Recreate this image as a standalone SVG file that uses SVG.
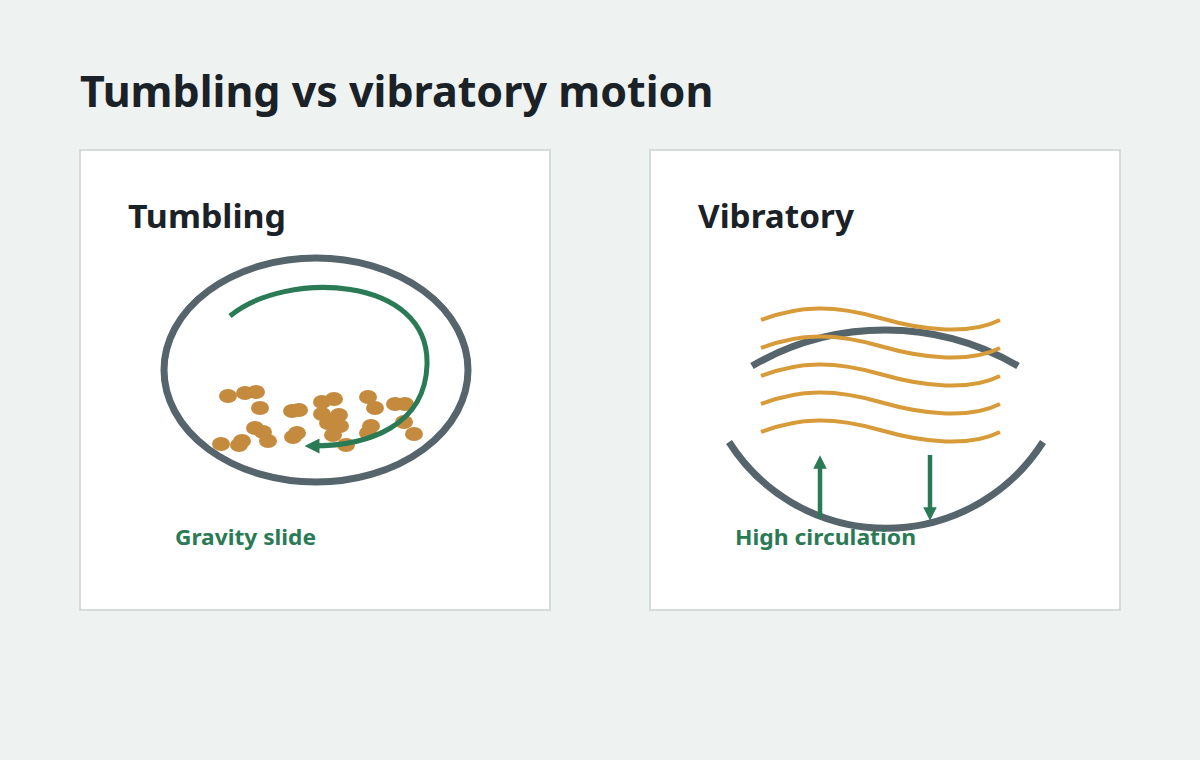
<svg xmlns="http://www.w3.org/2000/svg" width="1200" height="760" viewBox="0 0 1200 760">
<style>
.t{font-family:"Noto Sans","Open Sans",sans-serif;font-weight:bold;fill:#1a2228}
.lbl{font-family:"Noto Sans","Open Sans",sans-serif;font-weight:bold;fill:#2a7a55;font-size:22px}
.panel{fill:#fff;stroke:#d5dcdc;stroke-width:2}
.drum{fill:none;stroke:#56646c;stroke-width:7}
.flow{fill:none;stroke:#2a7a55;stroke-width:5}
.wave{fill:none;stroke:#d89b3a;stroke-width:4}
.p{fill:#c48b3f}
</style>
<defs>
<marker id="ah" viewBox="0 0 10 10" refX="5" refY="5" markerWidth="3" markerHeight="3" orient="auto-start-reverse"><path d="M0,0L10,5L0,10z" fill="#2a7a55"/></marker>
</defs>
<rect width="1200" height="760" fill="#eef2f1"/>
<text class="t" x="80" y="107" font-size="43">Tumbling vs vibratory motion</text>
<g id="tumbling">
<rect class="panel" x="80" y="150" width="470" height="460"/>
<text class="t" x="128" y="228" font-size="33" textLength="158" lengthAdjust="spacingAndGlyphs">Tumbling</text>
<ellipse class="drum" cx="316" cy="370" rx="152" ry="112"/>
<g class="p">
<ellipse cx="228" cy="396" rx="9" ry="7"/><ellipse cx="245" cy="393" rx="9" ry="7"/><ellipse cx="256" cy="392" rx="9" ry="7"/>
<ellipse cx="260" cy="408" rx="9" ry="7"/><ellipse cx="292" cy="411" rx="9" ry="7"/><ellipse cx="299" cy="410" rx="9" ry="7"/>
<ellipse cx="322" cy="402" rx="9" ry="7"/><ellipse cx="334" cy="399" rx="9" ry="7"/><ellipse cx="322" cy="414" rx="9" ry="7"/>
<ellipse cx="339" cy="415" rx="9" ry="7"/><ellipse cx="328" cy="423" rx="9" ry="7"/><ellipse cx="340" cy="426" rx="9" ry="7"/>
<ellipse cx="368" cy="397" rx="9" ry="7"/><ellipse cx="375" cy="408" rx="9" ry="7"/><ellipse cx="395" cy="404" rx="9" ry="7"/>
<ellipse cx="405" cy="404" rx="9" ry="7"/><ellipse cx="404" cy="422" rx="9" ry="7"/><ellipse cx="414" cy="434" rx="9" ry="7"/>
<ellipse cx="371" cy="426" rx="9" ry="7"/><ellipse cx="368" cy="433" rx="9" ry="7"/><ellipse cx="333" cy="435" rx="9" ry="7"/>
<ellipse cx="346" cy="445" rx="9" ry="7"/><ellipse cx="297" cy="433" rx="9" ry="7"/><ellipse cx="293" cy="437" rx="9" ry="7"/>
<ellipse cx="255" cy="428" rx="9" ry="7"/><ellipse cx="263" cy="432" rx="9" ry="7"/><ellipse cx="268" cy="441" rx="9" ry="7"/>
<ellipse cx="242" cy="441" rx="9" ry="7"/><ellipse cx="239" cy="445" rx="9" ry="7"/><ellipse cx="221" cy="444" rx="9" ry="7"/>
</g>
<text class="lbl" x="175" y="545" textLength="141" lengthAdjust="spacingAndGlyphs">Gravity slide</text>
</g>
<g id="vibratory">
<rect class="panel" x="650" y="150" width="470" height="460"/>
<text class="t" x="698" y="228" font-size="33" textLength="156" lengthAdjust="spacingAndGlyphs">Vibratory</text>
<path class="drum" d="M752,366 A264,264 0 0 1 1018,366"/>
<path class="drum" d="M729,442 A186,186 0 0 0 1043,442"/>
<g class="wave">
<path d="M761,320 C800,305 835,305 880,318 S970,335 1000,320"/>
<path d="M761,348 C800,333 835,333 880,346 S970,363 1000,348"/>
<path d="M761,376 C800,361 835,361 880,374 S970,391 1000,376"/>
<path d="M761,404 C800,389 835,389 880,402 S970,419 1000,404"/>
<path d="M761,432 C800,417 835,417 880,430 S970,447 1000,432"/>
</g>
<text class="lbl" x="735" y="545" textLength="181" lengthAdjust="spacingAndGlyphs">High circulation</text>
</g>
<g id="connectors">
<path class="flow" d="M230,316 C285,270 430,275 427,365 C425,425 370,446 312,446" marker-end="url(#ah)"/>
<line x1="820" y1="518" x2="820" y2="462" stroke="#2a7a55" stroke-width="4.5" marker-end="url(#ah)"/>
<line x1="930" y1="455" x2="930" y2="514" stroke="#2a7a55" stroke-width="4.5" marker-end="url(#ah)"/>
</g>
</svg>
